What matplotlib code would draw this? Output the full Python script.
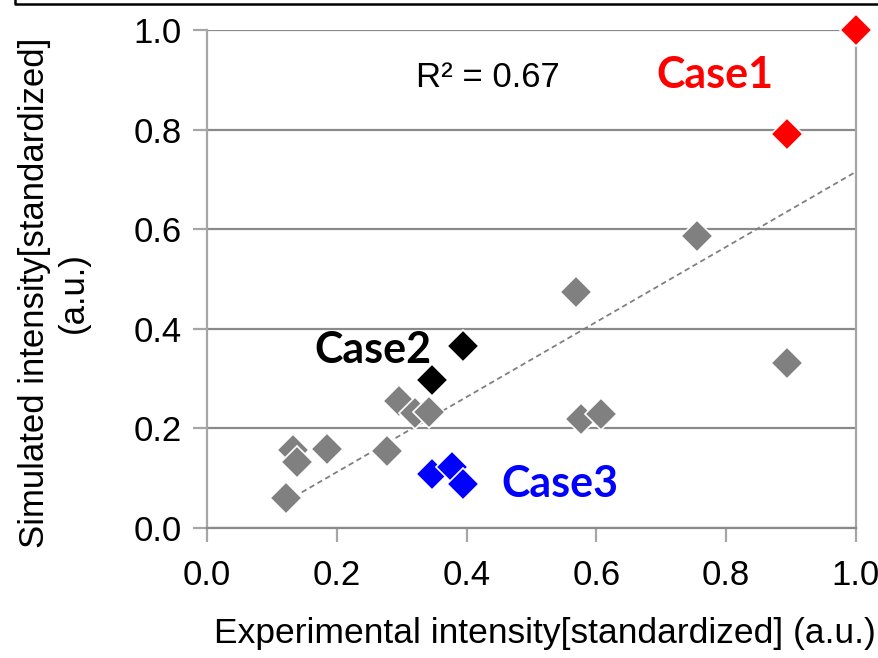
import matplotlib.pyplot as plt
import numpy as np
from matplotlib import font_manager
from matplotlib.lines import Line2D

# experimental vs simulated intensities (standardized)
exp_gray = [0.122, 0.133, 0.139, 0.185, 0.277, 0.296, 0.320, 0.342, 0.576, 0.607, 0.569, 0.755, 0.894]
sim_gray = [0.060, 0.157, 0.133, 0.159, 0.155, 0.255, 0.231, 0.233, 0.219, 0.229, 0.474, 0.586, 0.331]
exp_case1 = [1.000, 0.894]
sim_case1 = [1.000, 0.791]
exp_case2 = [0.394, 0.347]
sim_case2 = [0.365, 0.297]
exp_case3 = [0.347, 0.378, 0.395]
sim_case3 = [0.108, 0.122, 0.088]

ticks = [0.0, 0.2, 0.4, 0.6, 0.8, 1.0]

names = {f.name for f in font_manager.fontManager.ttflist}
narrow = 'Liberation Sans Narrow' if 'Liberation Sans Narrow' in names else 'Liberation Sans'
plt.rcParams['font.family'] = [narrow, 'DejaVu Sans']

fig = plt.figure(figsize=(8.79, 6.58), dpi=100)
ax = fig.add_axes([207 / 879, 130 / 658, 649 / 879, 498 / 658])

all_x = np.array(exp_gray + exp_case1 + exp_case2 + exp_case3)
all_y = np.array(sim_gray + sim_case1 + sim_case2 + sim_case3)
k, b = np.polyfit(all_x, all_y, 1)
xs = np.array([all_x.min(), all_x.max()])
ax.plot(xs, k * xs + b, ls=(0, (3, 2)), color='#808080', lw=1.3, zorder=2)

mk = dict(marker='D', ms=16.5, mec='white', mew=1.2, ls='none', zorder=3, clip_on=False)
ax.plot(exp_gray, sim_gray, color='#808080', **mk)
ax.plot(exp_case1, sim_case1, color='#ff0000', **mk)
ax.plot(exp_case2, sim_case2, color='#000000', **mk)
ax.plot(exp_case3, sim_case3, color='#0000ff', **mk)

ax.set_xlim(0, 1)
ax.set_ylim(0, 1)
ax.set_xticks(ticks)
ax.set_yticks(ticks)
ax.set_xticklabels([f'{t:.1f}' for t in ticks])
ax.set_yticklabels([f'{t:.1f}' for t in ticks])
ax.yaxis.grid(True, color='#8a8a8a', lw=1.6)
ax.set_axisbelow(True)
for s in ax.spines.values():
    s.set_color('#a6a6a6')
    s.set_linewidth(1.6)
ax.spines['bottom'].set_color('#8a8a8a')
ax.spines['top'].set_visible(False)
ax.tick_params(axis='both', length=10, width=1.6, color='#a6a6a6', labelsize=25)
ax.tick_params(axis='x', pad=12)
ax.tick_params(axis='y', pad=8)

ax.set_xlabel('Experimental intensity[standardized] (a.u.)', fontsize=25.5, labelpad=18, x=0.52)
ax.set_ylabel('Simulated intensity[standardized]\n(a.u.)', fontsize=25, linespacing=1.25)
ax.yaxis.set_label_coords(-0.18, 0.472)

ax.text(0.433, 0.905, 'R² = 0.67', fontsize=25, ha='center', va='center')
bold = dict(family=['Lato', 'DejaVu Sans'], fontweight='bold', fontsize=31, ha='center', va='center')
ax.text(0.782, 0.91, 'Case1', color='#ff0000', **bold)
ax.text(0.256, 0.358, 'Case2', color='#000000', **bold)
ax.text(0.544, 0.088, 'Case3', color='#0000ff', **bold)

# edge of the frame above the chart
fig.add_artist(Line2D([15 / 879, 15 / 879, 1.0], [1.0, 654 / 658, 654 / 658],
                      transform=fig.transFigure, color='black', lw=1.8))

fig.savefig('out.png', dpi=100)
